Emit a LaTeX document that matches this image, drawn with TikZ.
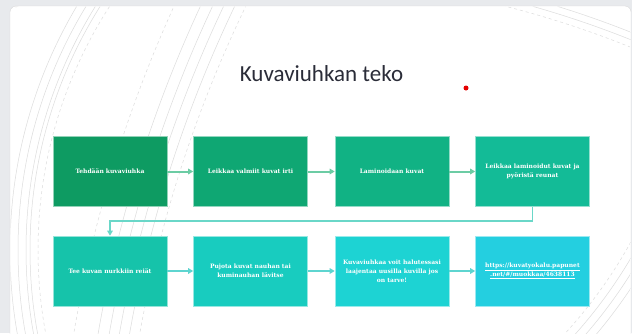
\documentclass[tikz,border=0pt]{standalone}
\usepackage{fontspec}
\setmainfont{DejaVu Serif}
\newfontfamily\titlefont{Carlito}
\usetikzlibrary{arrows.meta}
\definecolor{bgray}{HTML}{E8EAED}
\definecolor{arcgray}{HTML}{DCDCDC}
\definecolor{cA}{HTML}{0E9B62}
\definecolor{cB}{HTML}{0FA773}
\definecolor{cC}{HTML}{11B284}
\definecolor{cD}{HTML}{13BB97}
\definecolor{cE}{HTML}{16C3AA}
\definecolor{cF}{HTML}{18CCBF}
\definecolor{cG}{HTML}{1DD3D3}
\definecolor{cH}{HTML}{24CFE0}
\definecolor{arrA}{HTML}{6CCCA4}
\definecolor{arrB}{HTML}{5ED5D0}
\definecolor{conn}{HTML}{6AD7C8}
\definecolor{titlecol}{HTML}{2A2C38}
\tikzset{
  stepbox/.style={minimum width=114pt,minimum height=70pt,inner sep=0pt,
    align=center,text=white,
    font=\bfseries\fontsize{6}{9}\selectfont,draw=white!55!#1,line width=0.6pt,fill=#1},
  flowarrow/.style={draw=#1,line width=2pt,-{Triangle[length=5pt,width=5.5pt]}},
  decoarc/.style={draw=arcgray,line width=0.5pt},
}
\begin{document}
\begin{tikzpicture}[x=1pt,y=-1pt]
\useasboundingbox (0,0) rectangle (632,333);
\fill[bgray] (0,0) rectangle (632,333);
\fill[white,draw=black!15,rounded corners=6pt] (10,6) rectangle (631,350);
% decorative arcs
\begin{scope}
\clip[rounded corners=6pt] (10.5,6.5) rectangle (630.5,350);
\foreach \r in {478,470,462,458} {\draw[decoarc] (488,250) circle[radius=\r];}
\draw[decoarc,dashed] (488,250) circle[radius=450];
\foreach \r in {1311,1300,1290,1280} {\draw[decoarc] (1390,558) circle[radius=\r];}
\draw[decoarc,dashed] (1390,558) circle[radius=1270];
\draw[decoarc,dashed] (1390,558) circle[radius=1335];
\foreach \r in {500,492,484} {\draw[decoarc] (214,12) circle[radius=\r];}
\draw[decoarc,dashed] (214,12) circle[radius=476];
\foreach \r in {1000,993} {\draw[decoarc] (262,962) circle[radius=\r];}
\draw[decoarc,dashed] (262,962) circle[radius=986];
\end{scope}
% title
\node[font=\titlefont\fontsize{23}{26}\selectfont,text=titlecol,anchor=base] (title) at (321.5,81) {Kuvaviuhkan teko};
\fill[red!90!black] (466,88) circle[radius=2.5];
% boxes
\node[stepbox=cA] (b1) at (110,171.5) {Tehdään kuvaviuhka};
\node[stepbox=cB] (b2) at (250.5,171.5) {Leikkaa valmiit kuvat irti};
\node[stepbox=cC] (b3) at (392,171.5) {Laminoidaan kuvat};
\node[stepbox=cD] (b4) at (532.5,171.5) {Leikkaa laminoidut kuvat ja\\pyöristä reunat};
\node[stepbox=cE] (b5) at (110,271) {Tee kuvan nurkkiin reiät};
\node[stepbox=cF] (b6) at (250.5,271) {Pujota kuvat nauhan tai\\kuminauhan lävitse};
\node[stepbox=cG] (b7) at (392,271) {Kuvaviuhkaa voit halutessasi\\laajentaa uusilla kuvilla jos\\on tarve!};
\node[stepbox=cH] (b8) at (532.5,271) {\underline{https://kuvatyokalu.papunet}\\\underline{.net/\#/muokkaa/4638113}};
% connectors
\draw[flowarrow=arrA] (b1) -- (b2);
\draw[flowarrow=arrA] (b2) -- (b3);
\draw[flowarrow=arrA] (b3) -- (b4);
\draw[flowarrow=conn,line width=1.5pt] (b4.south) -- ++(0,14) -| (b5.north);
\draw[flowarrow=arrB] (b5) -- (b6);
\draw[flowarrow=arrB] (b6) -- (b7);
\draw[flowarrow=arrB] (b7) -- (b8);
\end{tikzpicture}
\end{document}
